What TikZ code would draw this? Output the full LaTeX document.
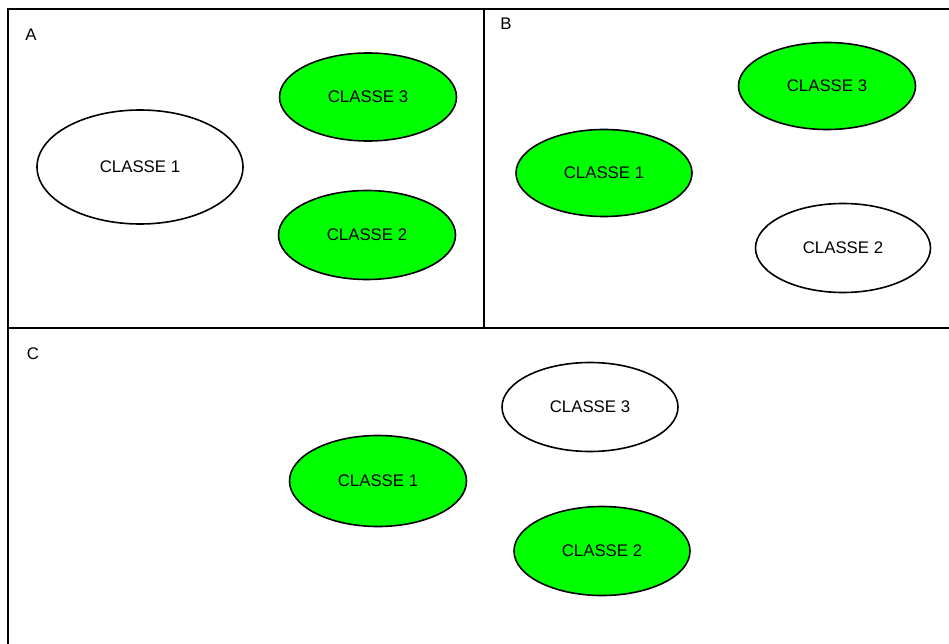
\documentclass[tikz,border=0pt]{standalone}
\usepackage{fontspec}
\setmainfont{Liberation Sans}
\usetikzlibrary{shapes.geometric}
\begin{document}
\begin{tikzpicture}[x=1pt,y=-1pt,
  frameline/.style={line width=2pt,draw=black},
  cls/.style={ellipse,draw=black,line width=1.6pt,inner sep=0pt,font=\fontsize{16.8}{19}\selectfont},
  green/.style={cls,fill={rgb,255:red,0;green,255;blue,0}},
  white/.style={cls,fill=white},
  lbl/.style={font=\fontsize{16.8}{19}\selectfont,inner sep=0pt}]
\useasboundingbox (0,0) rectangle (949,644);
% frame
\coordinate (tl) at (8,9);
\coordinate (tr) at (949,9);
\coordinate (bl) at (8,644);
\coordinate (mt) at (484,9);
\coordinate (mm) at (484,328);
\coordinate (ml) at (8,328);
\coordinate (mr) at (949,328);
\draw[frameline] (bl) -- (tl) -- (tr);
\draw[frameline] (mt) -- (mm);
\draw[frameline] (ml) -- (mr);
% labels
\node[lbl] (la) at (31,35) {A};
\node[lbl] (lb) at (506,24) {B};
\node[lbl] (lc) at (33,354) {C};
% A
\node[white,minimum width=206,minimum height=114] (a1) at (140,167) {CLASSE 1};
\node[green,minimum width=177,minimum height=88] (a3) at (368,97) {CLASSE 3};
\node[green,minimum width=177,minimum height=89] (a2) at (367,235) {CLASSE 2};
% B
\node[green,minimum width=176,minimum height=87] (b1) at (604,173) {CLASSE 1};
\node[green,minimum width=177,minimum height=87] (b3) at (827,86) {CLASSE 3};
\node[white,minimum width=175,minimum height=89] (b2) at (843,248) {CLASSE 2};
% C
\node[white,minimum width=176,minimum height=89] (c3) at (590,407) {CLASSE 3};
\node[green,minimum width=177,minimum height=91] (c1) at (378,481) {CLASSE 1};
\node[green,minimum width=176,minimum height=89] (c2) at (602,551) {CLASSE 2};
\end{tikzpicture}
\end{document}
